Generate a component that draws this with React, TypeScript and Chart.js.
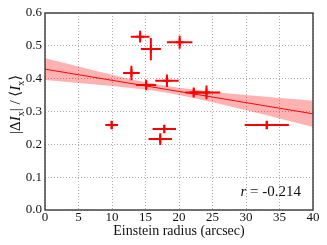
import React, { useEffect, useRef } from "react";
import { Chart, registerables } from "chart.js";

Chart.register(...registerables);

// Measured data (Einstein radius vs relative intensity difference)
const radius = [14.2, 15.8, 20.1, 12.9, 15.1, 18.2, 22.2, 24.1, 9.95, 17.8, 17.2, 33.1];
const amp = [0.528, 0.49, 0.511, 0.417, 0.381, 0.394, 0.358, 0.358, 0.259, 0.247, 0.216, 0.259];
const radiusErr = [1.4, 1.5, 1.9, 1.25, 1.5, 1.75, 1.25, 2.05, 0.95, 1.75, 1.75, 3.3];
const ampErr = [0.018, 0.034, 0.02, 0.022, 0.016, 0.019, 0.015, 0.021, 0.013, 0.013, 0.018, 0.013];

// Linear fit and its confidence band, read at these x positions
const fitX = [0, 5, 10, 15, 20, 25, 30, 35, 40];
const fitY = [0.429, 0.412, 0.395, 0.378, 0.361, 0.344, 0.327, 0.31, 0.293];
const bandUpper = [0.462, 0.437, 0.412, 0.389, 0.372, 0.36, 0.35, 0.341, 0.333];
const bandLower = [0.396, 0.387, 0.378, 0.367, 0.35, 0.328, 0.304, 0.279, 0.253];

const xTicks = [0, 5, 10, 15, 20, 25, 30, 35, 40];
const yTicks = [0.0, 0.1, 0.2, 0.3, 0.4, 0.5, 0.6];

const corrText = "-0.214";

const SERIF = "'Liberation Serif', 'DejaVu Serif', serif";
const RED = "#ff0000";

const toXY = (xs: number[], ys: number[]) => xs.map((x, i) => ({ x, y: ys[i] }));

const extrasPlugin = {
  id: "extras",
  afterDatasetsDraw(chart: any) {
    const { ctx, chartArea, scales } = chart;
    const xs = scales.x;
    const ys = scales.y;
    ctx.save();
    // error bars
    ctx.strokeStyle = RED;
    ctx.lineWidth = 2;
    for (let i = 0; i < radius.length; i++) {
      const cx = xs.getPixelForValue(radius[i]);
      const cy = ys.getPixelForValue(amp[i]);
      const x0 = xs.getPixelForValue(radius[i] - radiusErr[i]);
      const x1 = xs.getPixelForValue(radius[i] + radiusErr[i]);
      const y0 = ys.getPixelForValue(amp[i] - ampErr[i]);
      const y1 = ys.getPixelForValue(amp[i] + ampErr[i]);
      ctx.beginPath();
      ctx.moveTo(x0, cy);
      ctx.lineTo(x1, cy);
      ctx.moveTo(cx, y0);
      ctx.lineTo(cx, y1);
      ctx.stroke();
    }
    // frame
    ctx.strokeStyle = "#444";
    ctx.lineWidth = 1.5;
    ctx.strokeRect(chartArea.left, chartArea.top, chartArea.right - chartArea.left, chartArea.bottom - chartArea.top);

    // correlation text
    ctx.fillStyle = "#111";
    ctx.textBaseline = "alphabetic";
    ctx.textAlign = "left";
    const rest = " = " + corrText;
    ctx.font = "15px " + SERIF;
    const restW = ctx.measureText(rest).width;
    ctx.font = "italic 15px " + SERIF;
    const rW = ctx.measureText("r").width;
    const right = chartArea.right - 12;
    const base = chartArea.bottom - 14;
    ctx.fillText("r", right - restW - rW, base);
    ctx.font = "15px " + SERIF;
    ctx.fillText(rest, right - restW, base);

    // y axis label with mixed styles
    const parts: [string, string, number][] = [
      ["|Δ", "15px " + SERIF, 0],
      ["I", "italic 15px " + SERIF, 0],
      ["x", "10px " + SERIF, 4],
      ["| / ⟨", "15px " + SERIF, 0],
      ["I", "italic 15px " + SERIF, 0],
      ["x", "10px " + SERIF, 4],
      ["⟩", "15px " + SERIF, 0],
    ];
    let total = 0;
    const widths = parts.map(([t, f]) => {
      ctx.font = f;
      const w = ctx.measureText(t).width;
      total += w;
      return w;
    });
    ctx.translate(20, (chartArea.top + chartArea.bottom) / 2 - 7);
    ctx.rotate(-Math.PI / 2);
    let px = -total / 2;
    parts.forEach(([t, f, dy], i) => {
      ctx.font = f;
      ctx.fillText(t, px, dy);
      px += widths[i];
    });
    ctx.restore();
  },
};

export default function App() {
  const ref = useRef<HTMLCanvasElement>(null);
  useEffect(() => {
    if (!ref.current) return;
    const chart = new Chart(ref.current, {
      type: "scatter",
      data: {
        datasets: [
          {
            label: "data",
            data: toXY(radius, amp),
            pointStyle: "cross",
            pointRadius: 4,
            pointBorderWidth: 2,
            borderColor: RED,
            backgroundColor: RED,
          },
          {
            label: "fit",
            data: toXY(fitX, fitY),
            showLine: true,
            pointRadius: 0,
            borderColor: RED,
            borderWidth: 1,
            fill: false,
          },
          {
            label: "upper",
            data: toXY(fitX, bandUpper),
            showLine: true,
            pointRadius: 0,
            borderWidth: 0,
            borderColor: "rgba(255,0,0,0)",
            cubicInterpolationMode: "monotone",
            fill: false,
          },
          {
            label: "lower",
            data: toXY(fitX, bandLower),
            showLine: true,
            pointRadius: 0,
            borderWidth: 0,
            borderColor: "rgba(255,0,0,0)",
            backgroundColor: "rgba(255,0,0,0.3)",
            cubicInterpolationMode: "monotone",
            fill: "-1",
          },
        ],
      } as any,
      options: {
        animation: false,
        responsive: false,
        events: [],
        layout: { padding: { left: 0, right: 14, top: 13, bottom: 0 } },
        plugins: {
          legend: { display: false },
          tooltip: { enabled: false },
        },
        scales: {
          x: {
            type: "linear",
            min: 0,
            max: 40,
            afterBuildTicks: (s: any) => {
              s.ticks = xTicks.map((v) => ({ value: v }));
            },
            afterFit: (s: any) => {
              s.height = 35;
            },
            grid: {
              color: "#aaaaaa",
              drawTicks: false,
            },
            border: { display: false, dash: [1, 2] },
            ticks: {
              color: "#111",
              padding: 1,
              font: { family: SERIF, size: 13, lineHeight: 1 },
              callback: (v: any) => String(v),
            },
            title: {
              display: true,
              text: "Einstein radius (arcsec)",
              color: "#111",
              font: { family: SERIF, size: 14 },
              padding: { top: 0, bottom: 5 },
            },
          },
          y: {
            type: "linear",
            min: 0,
            max: 0.6,
            afterBuildTicks: (s: any) => {
              s.ticks = yTicks.map((v) => ({ value: v }));
            },
            afterFit: (s: any) => {
              s.width = 45;
            },
            grid: {
              color: "#aaaaaa",
              drawTicks: false,
            },
            border: { display: false, dash: [1, 2] },
            ticks: {
              color: "#111",
              padding: 3,
              font: { family: SERIF, size: 13 },
              callback: (v: any) => Number(v).toFixed(1),
            },
          },
        },
      } as any,
      plugins: [extrasPlugin],
    });
    return () => chart.destroy();
  }, []);
  return (
    <div style={{ position: "absolute", left: 0, top: 0, width: 327, height: 245, background: "#fff" }}>
      <canvas ref={ref} width={327} height={245} />
    </div>
  );
}
